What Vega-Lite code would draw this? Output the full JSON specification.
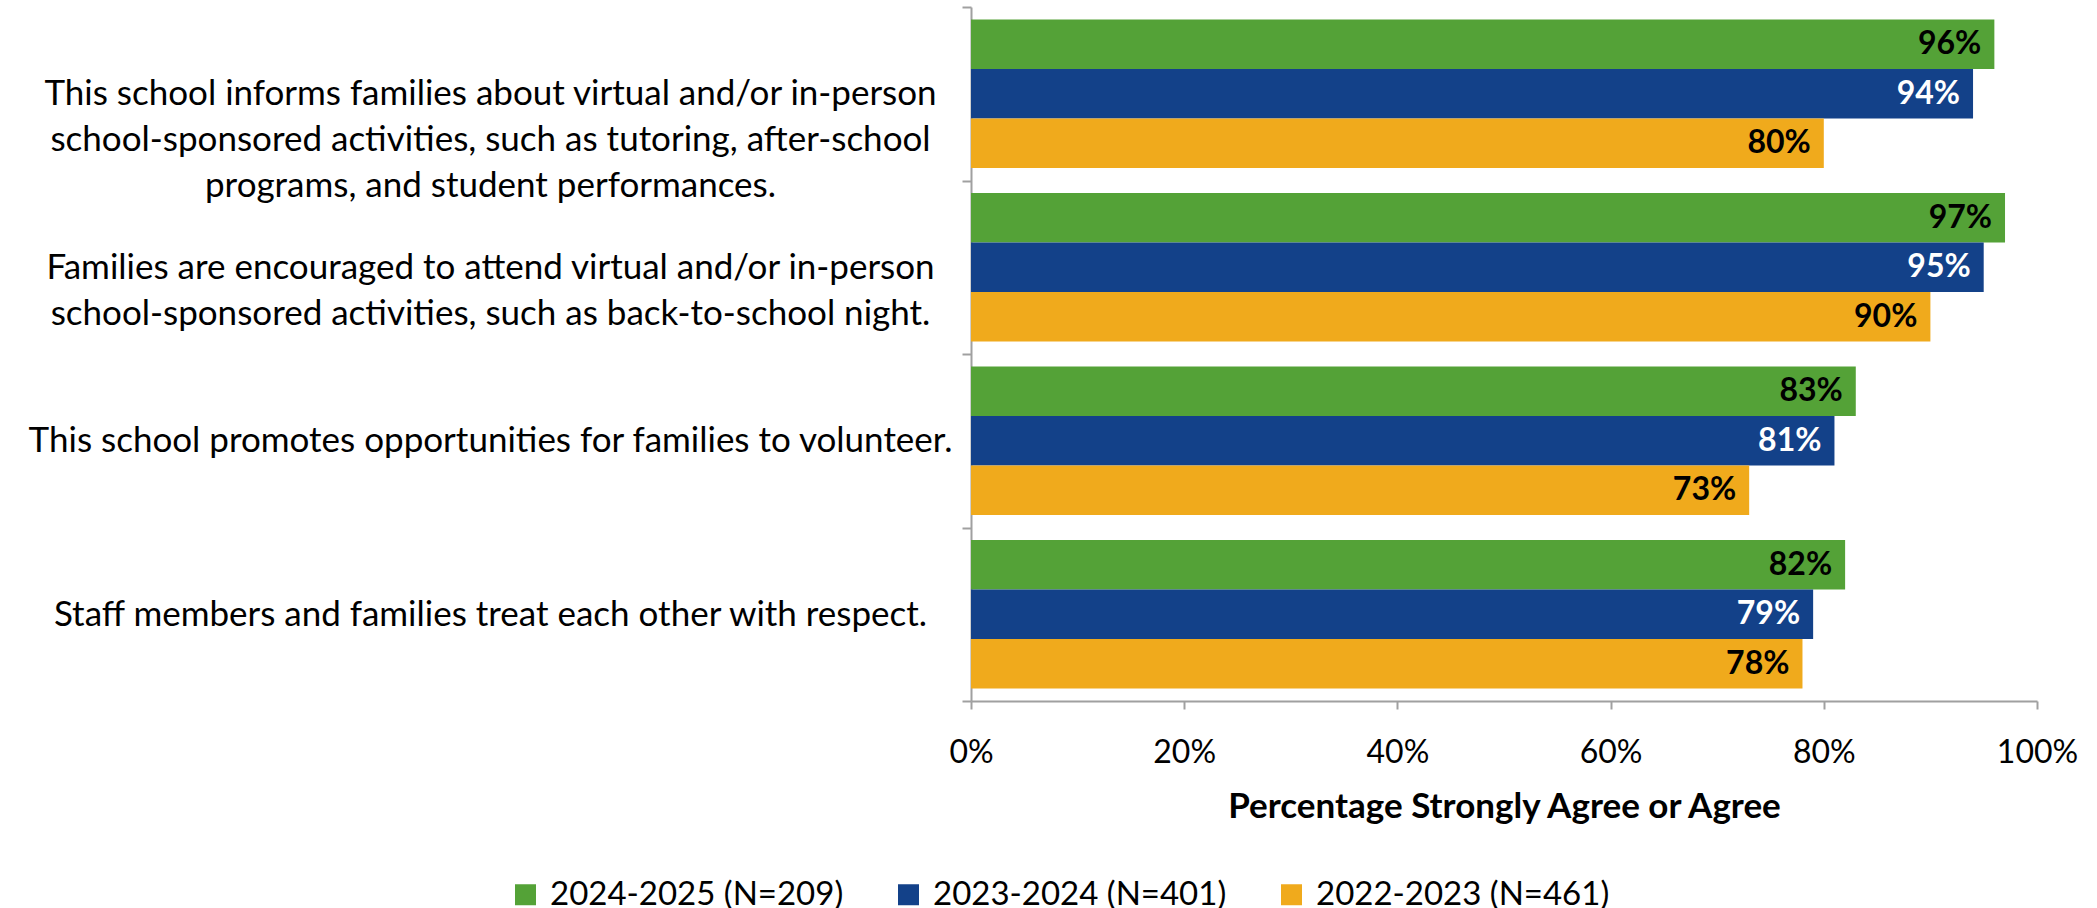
{
  "$schema": "https://vega.github.io/schema/vega-lite/v6.json",
  "autosize": "none",
  "padding": {"left": 971, "top": 7, "right": 60, "bottom": 207},
  "width": 1066,
  "height": 694,
  "background": "white",
  "config": {"view": {"stroke": null}, "font": "Lato"},
  "data": {"values": [
    {"question": "This school informs families about virtual and/or in-person|school-sponsored activities, such as tutoring, after-school|programs, and student performances.", "series": "2024-2025 (N=209)", "value": 0.96},
    {"question": "This school informs families about virtual and/or in-person|school-sponsored activities, such as tutoring, after-school|programs, and student performances.", "series": "2023-2024 (N=401)", "value": 0.94},
    {"question": "This school informs families about virtual and/or in-person|school-sponsored activities, such as tutoring, after-school|programs, and student performances.", "series": "2022-2023 (N=461)", "value": 0.80},
    {"question": "Families are encouraged to attend virtual and/or in-person|school-sponsored activities, such as back-to-school night.", "series": "2024-2025 (N=209)", "value": 0.97},
    {"question": "Families are encouraged to attend virtual and/or in-person|school-sponsored activities, such as back-to-school night.", "series": "2023-2024 (N=401)", "value": 0.95},
    {"question": "Families are encouraged to attend virtual and/or in-person|school-sponsored activities, such as back-to-school night.", "series": "2022-2023 (N=461)", "value": 0.90},
    {"question": "This school promotes opportunities for families to volunteer.", "series": "2024-2025 (N=209)", "value": 0.83},
    {"question": "This school promotes opportunities for families to volunteer.", "series": "2023-2024 (N=401)", "value": 0.81},
    {"question": "This school promotes opportunities for families to volunteer.", "series": "2022-2023 (N=461)", "value": 0.73},
    {"question": "Staff members and families treat each other with respect.", "series": "2024-2025 (N=209)", "value": 0.82},
    {"question": "Staff members and families treat each other with respect.", "series": "2023-2024 (N=401)", "value": 0.79},
    {"question": "Staff members and families treat each other with respect.", "series": "2022-2023 (N=461)", "value": 0.78}
  ]},
  "encoding": {
    "y": {
      "field": "question", "type": "nominal", "sort": null,
      "scale": {"paddingInner": 0, "paddingOuter": 0},
      "axis": {
        "title": null,
        "domainColor": "#a0a0a0", "domainWidth": 2,
        "tickColor": "#a0a0a0", "tickWidth": 2, "tickSize": 9, "tickBand": "extent",
        "labelAlign": "center", "labelBaseline": "middle", "labelPadding": 472,
        "labelFontSize": 35, "labelLineHeight": 46, "labelLimit": 2000, "labelColor": "black",
        "labelExpr": "split(datum.label, '|')"
      }
    },
    "yOffset": {
      "field": "series", "type": "nominal",
      "sort": ["2024-2025 (N=209)", "2023-2024 (N=401)", "2022-2023 (N=461)"],
      "scale": {"paddingInner": 0, "paddingOuter": 0.25}
    },
    "x": {
      "field": "value", "type": "quantitative",
      "scale": {"domain": [0, 1]},
      "axis": {
        "values": [0, 0.2, 0.4, 0.6, 0.8, 1], "format": ".0%", "grid": false,
        "domainColor": "#a0a0a0", "domainWidth": 2,
        "tickColor": "#a0a0a0", "tickWidth": 2, "tickSize": 8,
        "labelFontSize": 32, "labelPadding": 28, "labelColor": "black", "labelFlush": false,
        "title": "Percentage Strongly Agree or Agree", "titleFontSize": 35, "titleFontWeight": "bold",
        "titleColor": "black", "titlePadding": 21
      }
    }
  },
  "layer": [
    {
      "mark": {"type": "bar"},
      "encoding": {
        "color": {
          "field": "series", "type": "nominal",
          "scale": {"domain": ["2024-2025 (N=209)", "2023-2024 (N=401)", "2022-2023 (N=461)"], "range": ["#54A237", "#134189", "#F0AA1C"]},
          "legend": {
            "title": null, "orient": "none", "direction": "horizontal",
            "legendX": -462, "legendY": 871,
            "symbolType": "square", "symbolSize": 441, "symbolStrokeWidth": 0,
            "labelFontSize": 33, "labelColor": "black", "labelOffset": 8, "labelLimit": 500,
            "columnPadding": 48
          }
        }
      }
    },
    {
      "mark": {"type": "text", "align": "right", "baseline": "middle", "dx": -13, "fontWeight": "bold", "fontSize": 32},
      "encoding": {
        "text": {"field": "value", "type": "quantitative", "format": ".0%"},
        "color": {"condition": {"test": "datum.series === '2023-2024 (N=401)'", "value": "white"}, "value": "black"}
      }
    }
  ]
}
